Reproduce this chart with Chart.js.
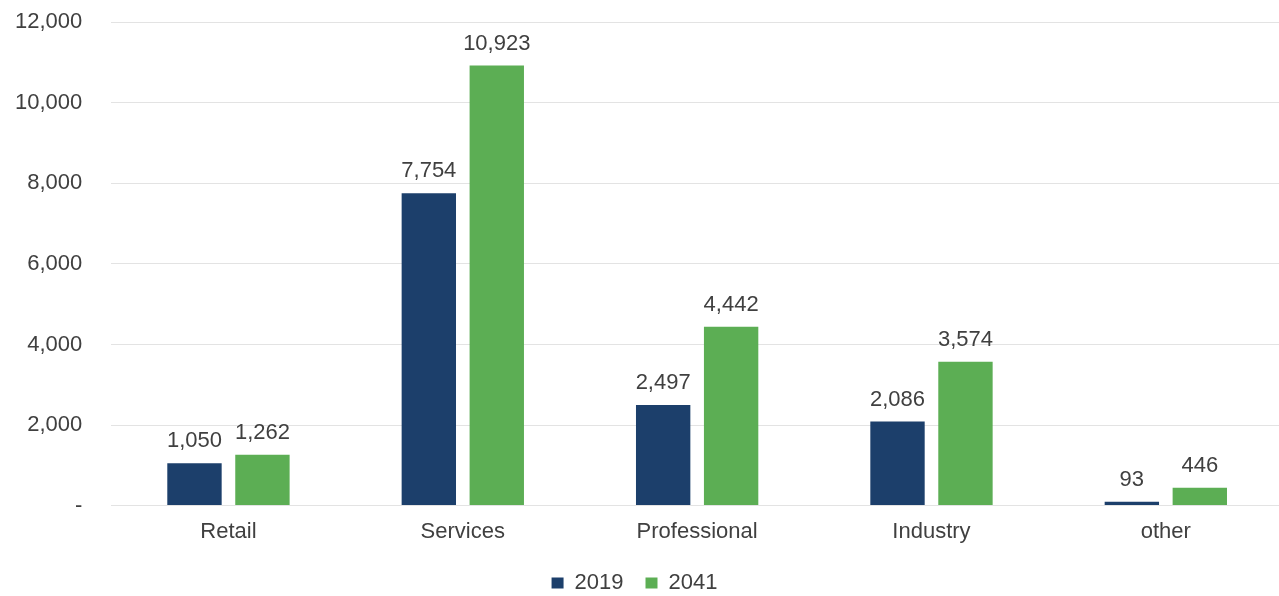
<!DOCTYPE html>
<html>
<head>
<meta charset="utf-8">
<script src="https://cdn.jsdelivr.net/npm/chart.js@4"></script>
<style>
  html, body { margin: 0; padding: 0; background: #fff; }
  #wrap { width: 1279px; height: 596px; overflow: hidden; position: relative; }
  #inner { position: absolute; left: -14px; top: -20px; width: 1297px; height: 616px; }
</style>
</head>
<body>
<div id="wrap"><div id="inner"><canvas id="myChart"></canvas></div></div>
<script>
const categories = ["Retail", "Services", "Professional", "Industry", "other"]
const values2019 = [1050, 7754, 2497, 2086, 93]
const values2041 = [1262, 10923, 4442, 3574, 446]
const yTicks = [0, 2000, 4000, 6000, 8000, 10000, 12000]

const fontFamily = '"Liberation Sans", Arial, sans-serif'

// value labels above each bar
const barLabels = {
    id: 'barLabels',
    afterDatasetsDraw(chart) {
        const ctx = chart.ctx
        ctx.save()
        ctx.font = '22px ' + fontFamily
        ctx.fillStyle = '#404040'
        ctx.textAlign = 'center'
        ctx.textBaseline = 'alphabetic'
        chart.data.datasets.forEach((ds, i) => {
            chart.getDatasetMeta(i).data.forEach((bar, j) => {
                ctx.fillText(ds.data[j].toLocaleString('en-US'), bar.x, bar.y - 16)
            })
        })
        ctx.restore()
    }
}

const data = {
    labels: categories,
    datasets: [{
        label: "2019",
        data: values2019,
        backgroundColor: '#1c3f6b',
        barPercentage: 0.8,
        categoryPercentage: 0.58
    }, {
        label: "2041",
        data: values2041,
        backgroundColor: '#5cae54',
        barPercentage: 0.8,
        categoryPercentage: 0.58
    }]
}

const config = {
    type: 'bar',
    data: data,
    plugins: [barLabels],
    options: {
        responsive: true,
        maintainAspectRatio: false,
        animation: false,
        layout: { padding: { top: 0, right: 0, left: 0, bottom: -8 } },
        plugins: {
            legend: {
                position: 'bottom',
                labels: {
                    boxWidth: 12,
                    boxHeight: 11,
                    padding: 22,
                    color: '#404040',
                    font: { size: 22, family: fontFamily }
                }
            },
            tooltip: { enabled: false }
        },
        scales: {
            x: {
                grid: { display: false },
                border: { display: false },
                ticks: {
                    color: '#404040',
                    padding: 5,
                    font: { size: 22, family: fontFamily }
                }
            },
            y: {
                min: 0,
                max: 12000,
                afterBuildTicks: axis => { axis.ticks = yTicks.map(v => ({ value: v })) },
                grid: { color: '#e3e3e3', drawTicks: false },
                border: { display: false },
                ticks: {
                    color: '#404040',
                    padding: 29,
                    font: { size: 22, family: fontFamily },
                    callback: v => v === 0 ? '-' : v.toLocaleString('en-US')
                }
            }
        }
    }
}

const myChart = new Chart(document.getElementById("myChart"), config)
</script>
</body>
</html>
